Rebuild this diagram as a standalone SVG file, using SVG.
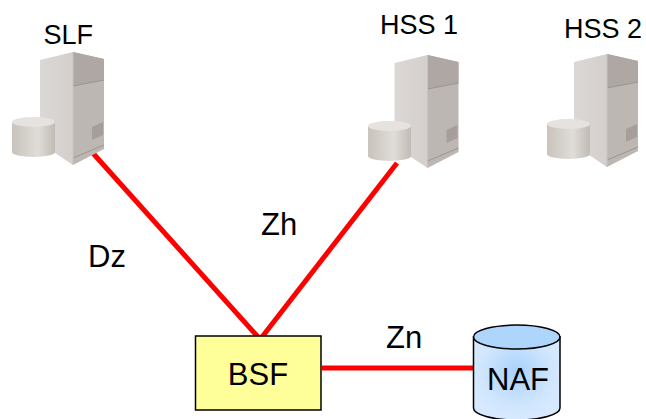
<svg xmlns="http://www.w3.org/2000/svg" xmlns:xlink="http://www.w3.org/1999/xlink" width="646" height="419" viewBox="0 0 646 419">
<style>
text{font-family:"Liberation Sans",Arial,sans-serif;fill:#000}
.t26{font-size:27px}
.t30{font-size:31px}
.link{stroke:#ff0000;stroke-width:5;fill:none}
</style>
<defs>
<linearGradient id="cyl" x1="0" x2="1" y1="0" y2="0">
<stop offset="0" stop-color="#c8c3bc"/><stop offset=".6" stop-color="#e0dcd8"/><stop offset="1" stop-color="#c0bbb4"/>
</linearGradient>
<linearGradient id="front" x1="0" x2="1" y1="0" y2="0">
<stop offset="0" stop-color="#dcd8d6"/><stop offset="1" stop-color="#d4cfcc"/>
</linearGradient>
<radialGradient id="naf" cx=".5" cy=".42" r=".55">
<stop offset="0" stop-color="#a8d2fb"/><stop offset=".75" stop-color="#d0e6fd"/><stop offset="1" stop-color="#d6e9fe"/>
</radialGradient>
<g id="tower">
<path d="M40 60L73 52L73 165L40 143Z" fill="url(#front)"/>
<path d="M73 52L104 59V149L73 165Z" fill="#bdb7b3"/>
<path d="M73 52L104 59V80L73 86Z" fill="#aea7a3"/>
<path d="M73 86L104 80" stroke="#9c9490" stroke-width="1" fill="none"/>
<path d="M73 158L104 145" stroke="#9c9490" stroke-width="1" fill="none"/>
<path d="M92 127L103 122V135L92 140Z" fill="#a59e9a"/>
<path d="M73 52V165" stroke="#c9c4c1" stroke-width="1" fill="none"/>
</g>
<g id="drum">
<path d="M12 122V152A21.500 5 0 0 0 55 152V122Z" fill="url(#cyl)"/>
<ellipse cx="33.500" cy="122" rx="21.500" ry="5" fill="#e5e2e0"/>
</g>
</defs>
<g id="connectors">
<line class="link" x1="91" y1="151" x2="258" y2="337"/>
<line class="link" x1="397" y1="163" x2="262" y2="337"/>
<line class="link" x1="322" y1="368" x2="473" y2="368"/>
</g>
<g id="slf">
<use xlink:href="#tower" href="#tower"/>
<use xlink:href="#drum" href="#drum"/>
<text class="t26" x="43.500" y="44">SLF</text>
</g>
<g id="hss1">
<use xlink:href="#tower" href="#tower" x="354.500" y="3"/>
<use xlink:href="#drum" href="#drum" x="356" y="4"/>
<text class="t26" x="380" y="34">HSS 1</text>
</g>
<g id="hss2">
<use xlink:href="#tower" href="#tower" x="534" y="2"/>
<use xlink:href="#drum" href="#drum" x="535" y="2"/>
<text class="t26" x="564" y="38">HSS 2</text>
</g>
<g id="bsf">
<rect x="195.500" y="336" width="125.500" height="74" fill="#ffff99" stroke="#000" stroke-width="1.500"/>
<text class="t30" x="258" y="385" text-anchor="middle">BSF</text>
</g>
<g id="naf-node">
<path d="M473.500 337V408A43 12 0 0 0 560 408V337Z" fill="url(#naf)" stroke="#000" stroke-width="1.500"/>
<ellipse cx="516.750" cy="337" rx="43.250" ry="12" fill="#aed6fc" stroke="#000" stroke-width="1.500"/>
<text class="t30" x="518" y="390" text-anchor="middle">NAF</text>
</g>
<g id="labels">
<text class="t30" x="88" y="267">Dz</text>
<text class="t30" x="261" y="235">Zh</text>
<text class="t30" x="386" y="348">Zn</text>
</g>
</svg>
